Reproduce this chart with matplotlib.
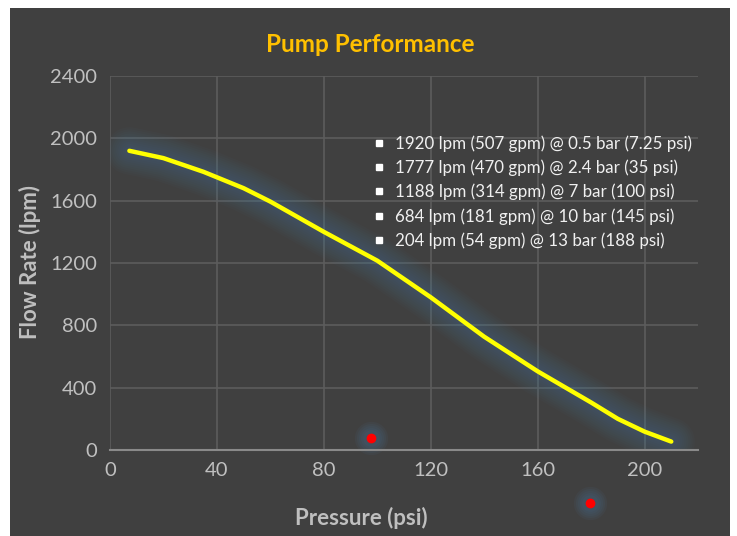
import matplotlib
matplotlib.use('Agg')
import matplotlib.pyplot as plt
from matplotlib.lines import Line2D
from matplotlib.patches import Rectangle

# Datos
presion = [7.25, 20, 35, 50, 60, 80, 100, 120, 140, 160, 180, 190, 200, 210]
caudal = [1920, 1873, 1785, 1680, 1594, 1400, 1215, 980, 727, 505, 305, 200, 118, 54]

puntos_x = [97.5, 179.5]
puntos_y = [80, -340]

etiquetas = ['1920 lpm (507 gpm) @ 0.5 bar (7.25 psi)',
             '1777 lpm (470 gpm) @ 2.4 bar (35 psi)',
             '1188 lpm (314 gpm) @ 7 bar (100 psi)',
             '684 lpm (181 gpm) @ 10 bar (145 psi)',
             '204 lpm (54 gpm) @ 13 bar (188 psi)']

plt.rcParams['font.family'] = ['Lato', 'DejaVu Sans']

fig = plt.figure(figsize=(7.37, 5.36), dpi=100)
fig.patch.set_facecolor('white')
# Panel oscuro de fondo
fondo = Rectangle((10 / 737, 0), 720 / 737, 528 / 536,
                  transform=fig.transFigure, facecolor='#404040',
                  edgecolor='none', zorder=-10)
fig.patches.append(fondo)

ax = fig.add_axes([110 / 737, 86 / 536, 588 / 737, 374 / 536])
ax.set_zorder(2)
ax.set_facecolor('none')
ax.set_xlim(0, 220)
ax.set_ylim(0, 2400)
ax.set_xticks(range(0, 201, 40))
ax.set_yticks(range(0, 2401, 400))
ax.grid(True, color='#5c5c5c', linewidth=1.2)
ax.set_axisbelow(True)
for s in ['top', 'right', 'left']:
    ax.spines[s].set_visible(False)
ax.spines['bottom'].set_color('#8a8a8a')
ax.spines['bottom'].set_linewidth(1.5)
ax.tick_params(length=0, colors='#c0c0c0', labelsize=14.5, pad=9)

# Brillo azul alrededor de la curva (suave)
for w in range(34, 6, -3):
    ax.plot(presion, caudal, color='#4f7fae', linewidth=w, alpha=0.035,
            solid_capstyle='round', solid_joinstyle='round')
ax.plot(presion, caudal, color='#ffff00', linewidth=3.2,
        solid_capstyle='round', solid_joinstyle='round')

# Puntos rojos con brillo
for ms in range(24, 9, -3):
    ax.plot(puntos_x, puntos_y, 'o', color='#4f7fae', markersize=ms,
            alpha=0.07, markeredgewidth=0, clip_on=False)
ax.plot(puntos_x, puntos_y, 'o', color='#ff0000', markersize=7,
        markeredgewidth=0, clip_on=False)

handles = [Line2D([], [], marker='s', color='white', linestyle='none', markersize=4.5)
           for _ in etiquetas]
leg = fig.legend(handles, etiquetas, loc='upper left',
                 bbox_to_anchor=(371 / 737, 1 - 135 / 536),
                 frameon=False, fontsize=12.2, labelcolor='#f0f0f0',
                 handlelength=0.9, handletextpad=0.5, labelspacing=0.46,
                 borderpad=0, borderaxespad=0)
leg.set_zorder(5)

fig.text(370 / 737, 1 - 44 / 536, 'Pump Performance', color='#ffc000',
         fontsize=17.5, fontweight='bold', ha='center', va='center')
fig.text(30 / 737, 1 - 262 / 536, 'Flow Rate (lpm)', color='#bfbfbf',
         fontsize=16, fontweight='bold', rotation=90, ha='center', va='center')
fig.text(361 / 737, 1 - 518 / 536, 'Pressure (psi)', color='#bfbfbf',
         fontsize=16, fontweight='bold', ha='center', va='center')

fig.savefig('out.png', dpi=100, facecolor=fig.get_facecolor())
